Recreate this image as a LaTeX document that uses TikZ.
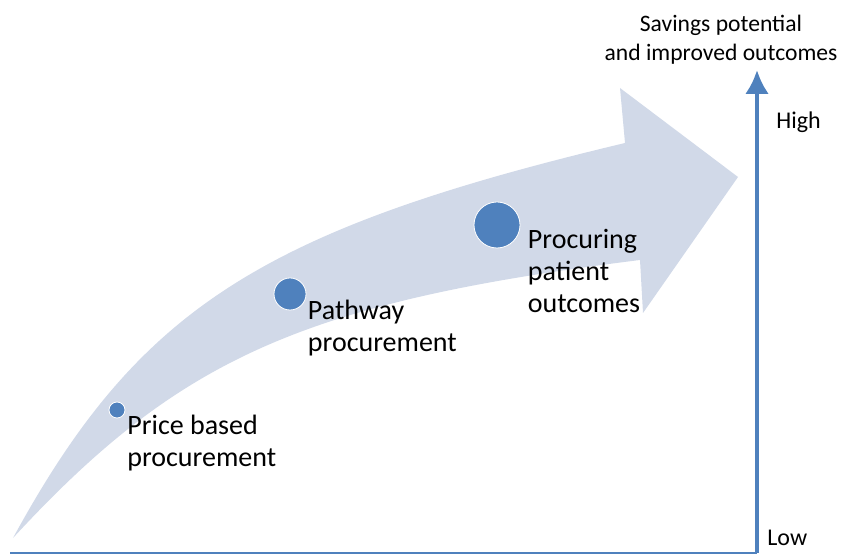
\documentclass[tikz,border=0pt]{standalone}
\usepackage{fontspec}
\setmainfont{Carlito}
\usetikzlibrary{positioning,arrows.meta}
\definecolor{arrowfill}{RGB}{209,217,232}
\definecolor{accent}{RGB}{79,129,189}
\tikzset{
  stage/.style={circle,fill=accent,draw=white,line width=0.4pt,inner sep=0pt},
  stagetext/.style={align=left,inner sep=0pt,font=\fontsize{14}{16}\selectfont},
  axislabel/.style={inner sep=0pt,font=\fontsize{12}{14}\selectfont}
}
\begin{document}
\begin{tikzpicture}[x=0.5pt,y=0.5pt]
   \useasboundingbox (0,0) rectangle (841,557);
   % curved arrow
   \fill[arrowfill] (13,19) .. controls (138,248) and (260,327) .. (625,414)
      -- (620,469) -- (738,380) -- (643,244) -- (640,297)
      .. controls (304,255) and (179,199) .. (13,19) -- cycle;
   % axes
   \coordinate (xstart) at (10,4);
   \coordinate (origin) at (757,4);
   \coordinate (ytop) at (757,487);
   \draw[accent,line width=1pt] (xstart) -- (origin);
   \draw[accent,line width=2.2pt,-{Latex[length=12pt,width=12pt]}] (origin) -- (ytop);
   \node[axislabel,align=center,font=\fontsize{11.8}{14.5}\selectfont,above=2.5pt of ytop,xshift=-18pt] (title) {Savings potential\\and improved outcomes};
   \node[axislabel,anchor=base west] (high) at (776,428) {High};
   \node[axislabel,anchor=base west] (low) at (767,11) {Low};
   % stages
   \node[stage,minimum size=8pt] (price) at (117,147) {};
   \node[stage,minimum size=16pt] (pathway) at (290,263) {};
   \node[stage,minimum size=23pt] (outcomes) at (497,332) {};
   \node[stagetext,below right=-0.5pt and 2pt of price] (pricetext) {Price based\\procurement};
   \node[stagetext,below right=-3pt and 3pt of pathway] (pathwaytext) {Pathway\\procurement};
   \node[stagetext,below right=-6.5pt and 7pt of outcomes] (outcomestext) {Procuring\\patient\\outcomes};
   %\node[below] at (origin) {$0$};
\end{tikzpicture}
\end{document}
